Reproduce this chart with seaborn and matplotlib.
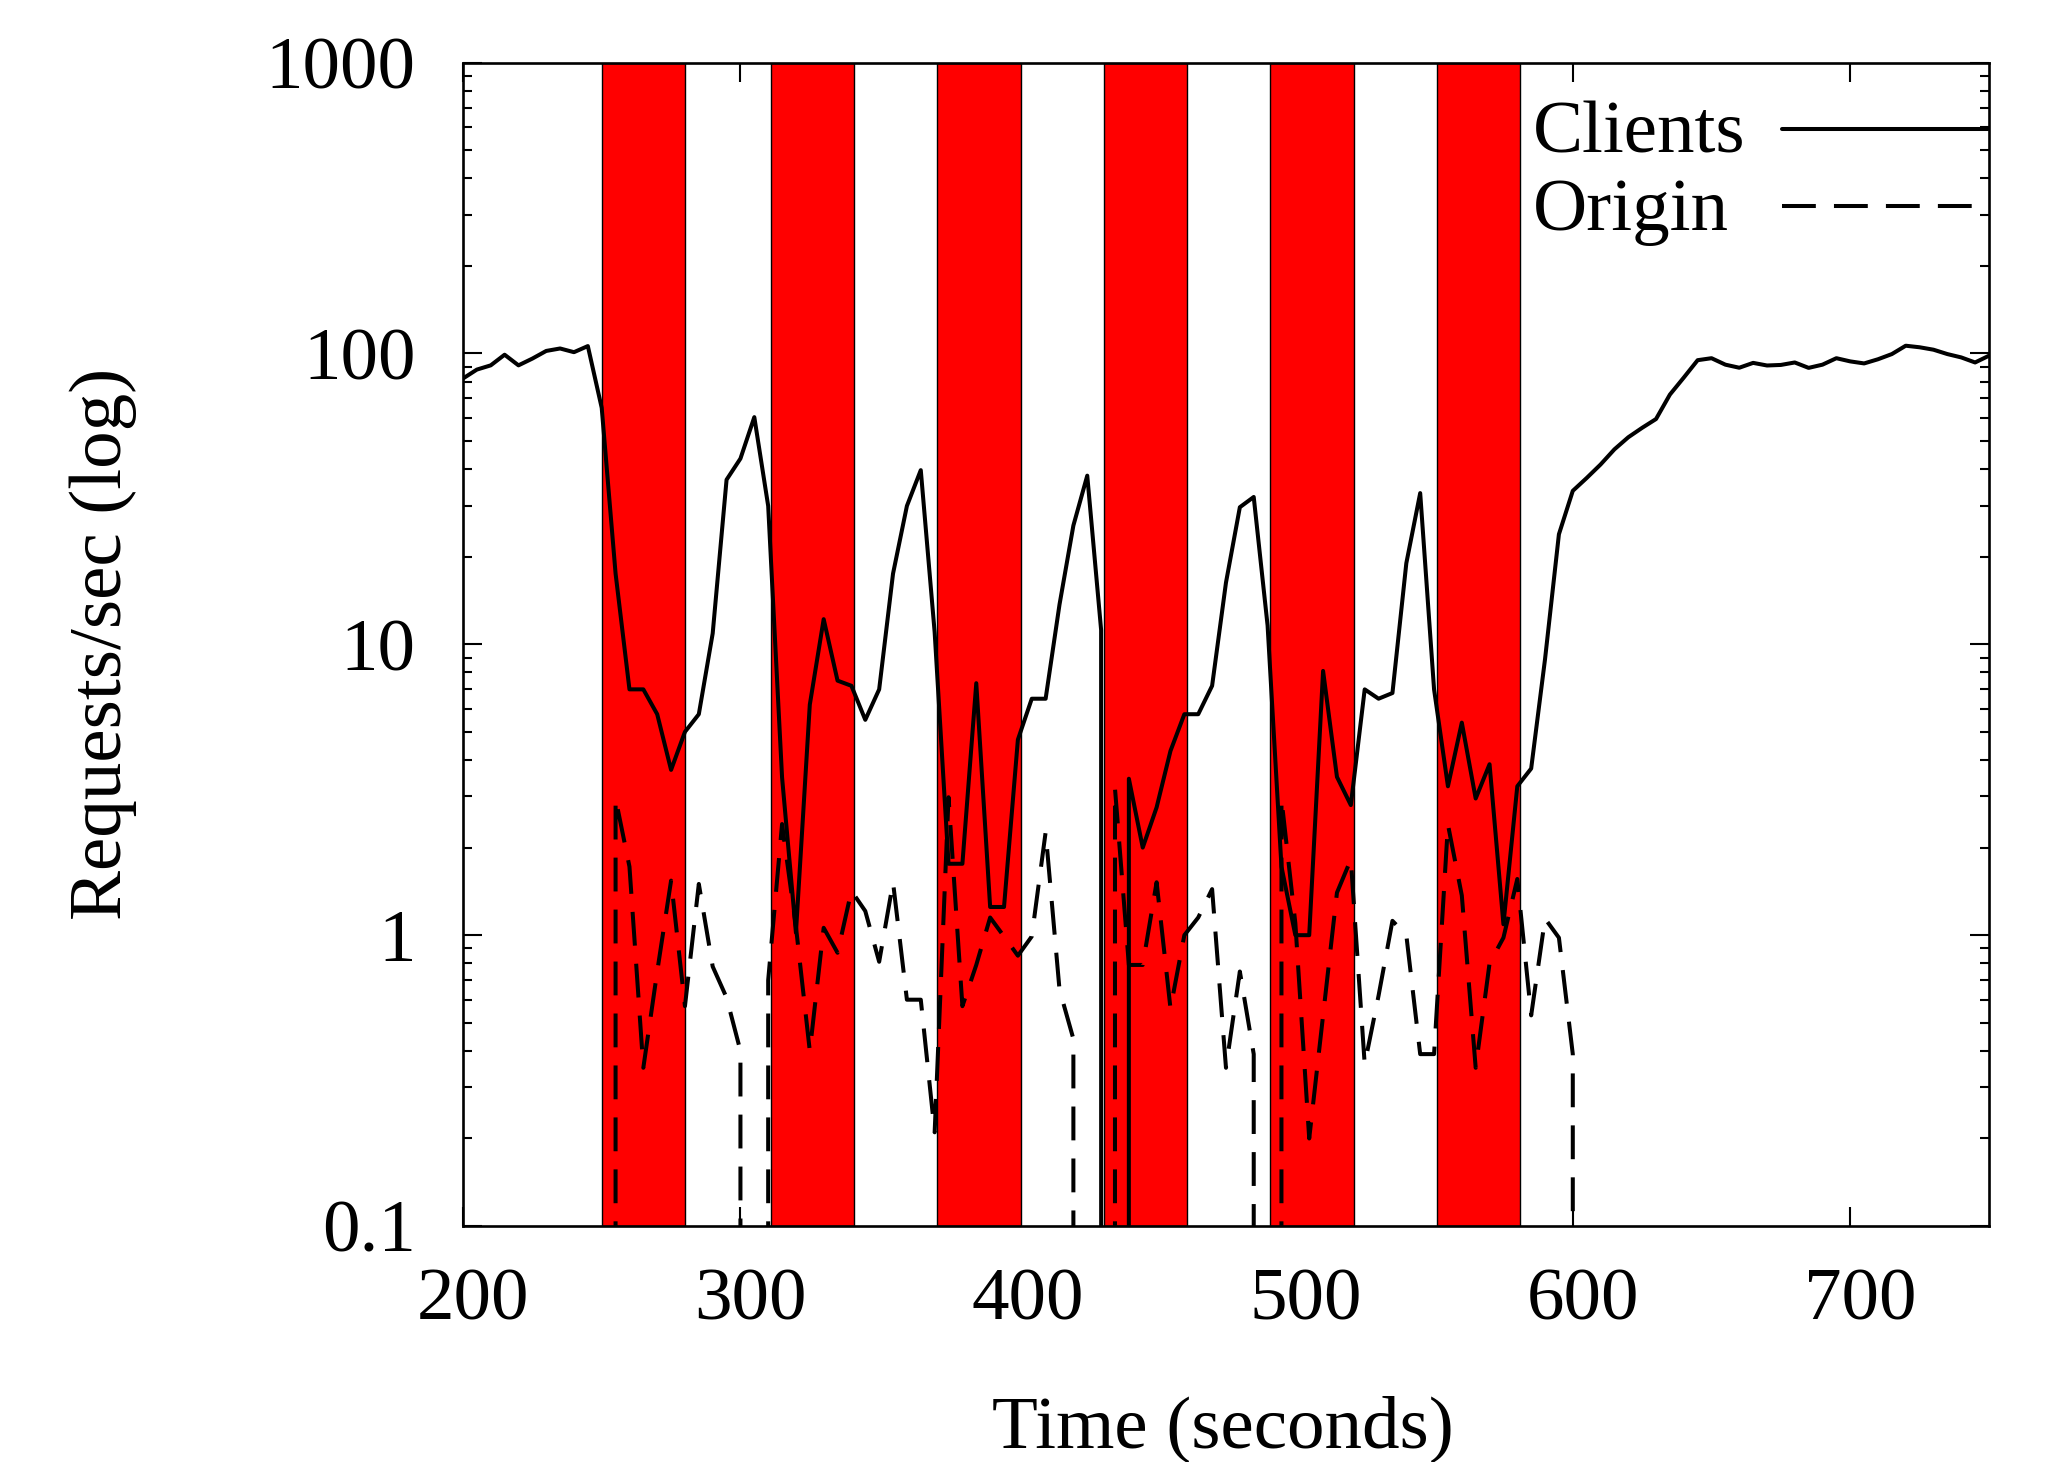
import numpy as np
import pandas as pd
import matplotlib
matplotlib.use("Agg")
import matplotlib.pyplot as plt
import matplotlib.ticker as mticker
import matplotlib.transforms as mtransforms
from matplotlib.lines import Line2D
import seaborn as sns

# ---- data ----
time_s = np.arange(200, 755, 5)

clients = [
    82, 88, 91, 99, 91, 96, 102, 104, 101, 106,
    65, 17.5, 7.0, 7.0, 5.75, 3.7, 5.0, 5.75, 10.9, 36.8,
    43.5, 60.4, 29.9, 3.49, 1.02, 6.2, 12.2, 7.5, 7.2, 5.5,
    7.0, 17.5, 29.9, 39.7, 11.0, 1.76, 1.76, 7.35, 1.25, 1.25,
    4.7, 6.5, 6.5, 13.7, 25.6, 38, 11.2, 0, 3.45, 2.0,
    2.75, 4.3, 5.75, 5.75, 7.2, 16.3, 29.6, 32.1, 11.6, 1.72,
    1.0, 1.0, 8.1, 3.5, 2.8, 7.0, 6.5, 6.8, 19.0, 33.1,
    7.0, 3.25, 5.38, 2.95, 3.87, 1.09, 3.25, 3.74, 8.9, 23.9,
    33.7, 37.3, 41.5, 46.8, 51.5, 55.5, 59.5, 72.2, 82.6, 94.8,
    96.3, 91.5, 89.3, 92.8, 90.9, 91.3, 93.1, 89.2, 91.5, 96.3,
    93.9, 92.4, 95.5, 99.5, 106.3, 105, 103, 99.5, 96.9, 93.1,
    98.2,
]

origin = [
    0, 0, 0, 0, 0, 0, 0, 0, 0, 0,
    0, 2.95, 1.72, 0.35, 0.75, 1.54, 0.57, 1.50, 0.78, 0.61,
    0.40, 0, 0.70, 2.41, 1.07, 0.40, 1.06, 0.87, 1.42, 1.21,
    0.81, 1.52, 0.60, 0.60, 0.21, 2.98, 0.57, 0.79, 1.15, 0.99,
    0.85, 0.99, 2.26, 0.65, 0.44, 0, 0, 3.19, 0.79, 0.79,
    1.52, 0.56, 1.0, 1.15, 1.44, 0.35, 0.75, 0.39, 0, 2.94,
    1.1, 0.20, 0.53, 1.40, 1.82, 0.36, 0.62, 1.12, 1.0, 0.39,
    0.39, 2.4, 1.37, 0.35, 0.80, 0.98, 1.56, 0.53, 1.14, 0.98,
    0.39, 0, 0, 0, 0, 0, 0, 0, 0, 0,
    0, 0, 0, 0, 0, 0, 0, 0, 0, 0,
    0, 0, 0, 0, 0, 0, 0, 0, 0, 0,
    0,
]

band_start = [250, 311, 371, 431, 491, 551]
band_end = [280, 341, 401, 461, 521, 581]

x_ticks = [200, 300, 400, 500, 600, 700]
y_ticks = [0.1, 1, 10, 100, 1000]
y_tick_labels = ["0.1", "1", "10", "100", "1000"]
series_names = ["Clients", "Origin"]

df = pd.DataFrame({"time": time_s, "Clients": clients, "Origin": origin})

# ---- style ----
sns.set_style("ticks")
plt.rcParams["font.family"] = ["Liberation Serif", "DejaVu Serif"]
for key in ["text.color", "axes.labelcolor", "xtick.color", "ytick.color", "axes.edgecolor"]:
    plt.rcParams[key] = "black"
FS = 54
LW = 2.9
DASH = (0, (8.4, 4.5))

fig = plt.figure(figsize=(20.45, 14.62), dpi=100)
ax = fig.add_axes([0.2264, 0.1614, 0.7462, 0.7958])

for s, e in zip(band_start, band_end):
    ax.axvspan(s, e, facecolor="#ff0000", edgecolor="black", linewidth=1.0, zorder=1)

sns.lineplot(data=df, x="time", y="Clients", ax=ax, color="black", linewidth=LW,
             errorbar=None, legend=False, zorder=3)
sns.lineplot(data=df, x="time", y="Origin", ax=ax, color="black", linewidth=LW,
             errorbar=None, legend=False, linestyle=DASH, zorder=3)

ax.set_yscale("log")
ax.set_xlim(200, 750)
ax.set_ylim(0.1, 1000)

ax.set_xticks(x_ticks)
ax.set_xticklabels([str(t) for t in x_ticks])
ax.set_yticks(y_ticks)
ax.set_yticklabels(y_tick_labels)
ax.yaxis.set_minor_locator(mticker.LogLocator(base=10, subs=np.arange(2, 10), numticks=20))
ax.yaxis.set_minor_formatter(mticker.NullFormatter())
ax.xaxis.set_minor_locator(mticker.NullLocator())

ax.tick_params(which="both", direction="in", top=True, right=True, width=1.5, color="black")
ax.tick_params(which="major", length=13.4)
ax.tick_params(which="minor", length=6.7)
ax.tick_params(axis="x", which="major", labelsize=FS, pad=30, labelcolor="black")
ax.tick_params(axis="y", which="major", labelsize=FS, pad=34, labelcolor="black")

offset = mtransforms.ScaledTranslation(0.10, 0, fig.dpi_scale_trans)
for lbl in ax.get_xticklabels():
    lbl.set_transform(lbl.get_transform() + offset)

for sp in ax.spines.values():
    sp.set_linewidth(1.9)
    sp.set_color("black")
    sp.set_zorder(5)

ax.set_xlabel("Time (seconds)", fontsize=FS, va="baseline", color="black")
ax.xaxis.set_label_coords(0.4977, -0.190)
ax.set_ylabel("Requests/sec (log)", fontsize=FS, va="center", color="black")
ax.yaxis.set_label_coords(-0.236, 0.5)

# gnuplot-style key: text left-aligned, sample line to its right
key_text_x = 0.7012
key_line_x = (0.8644, 0.9993)
key_rows = [(0.9223, 0.9429, "-"), (0.8561, 0.8767, DASH)]
for name, (ty, ly, ls) in zip(series_names, key_rows):
    ax.text(key_text_x, ty, name, transform=ax.transAxes, fontsize=FS,
            ha="left", va="baseline", color="black", zorder=6)
    ax.add_line(Line2D(list(key_line_x), [ly, ly], transform=ax.transAxes,
                       color="black", linewidth=LW, linestyle=ls, zorder=6))

fig.savefig("out.png", dpi=100)
